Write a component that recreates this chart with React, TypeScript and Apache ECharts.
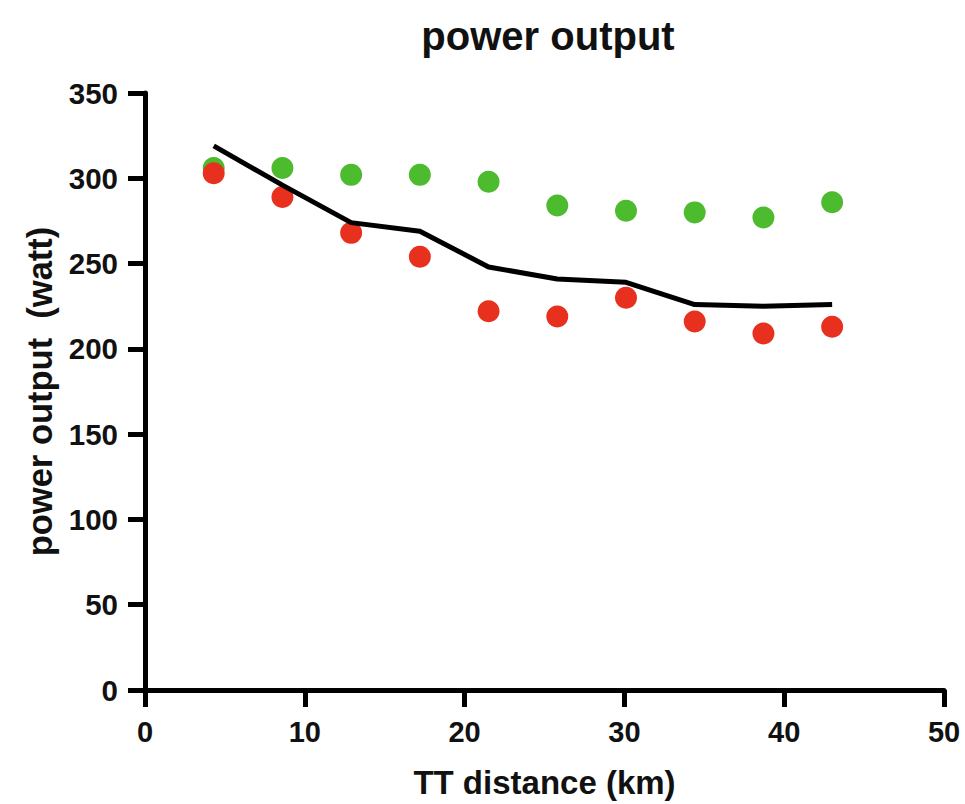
import React, { useEffect, useRef } from "react";
import * as echarts from "echarts";

const distances = [4.3, 8.6, 12.9, 17.2, 21.5, 25.8, 30.1, 34.4, 38.7, 43];
const greenPower = [306, 306, 302, 302, 298, 284, 281, 280, 277, 286];
const redPower = [303, 289, 268, 254, 222, 219, 230, 216, 209, 213];
const linePower = [319, 296, 274, 269, 248, 241, 239, 226, 225, 226];
const xTicks = [0, 10, 20, 30, 40, 50];
const yTicks = [0, 50, 100, 150, 200, 250, 300, 350];

const FONT = "Liberation Sans, Arial, sans-serif";

export default function App() {
  const ref = useRef<HTMLDivElement>(null);
  useEffect(() => {
    if (!ref.current) return;
    const chart = echarts.init(ref.current, undefined, { renderer: "svg" });
    const pair = (ys: number[]) => distances.map((x, i) => [x, ys[i]]);
    chart.setOption({
      animation: false,
      backgroundColor: "#ffffff",
      title: {
        text: "power output",
        left: 543,
        top: 11,
        textAlign: "center",
        textStyle: { fontFamily: FONT, fontWeight: "bold", fontSize: 40, color: "#111" },
      },
      grid: { left: 145, right: 21, top: 93, bottom: 111, containLabel: false },
      xAxis: {
        type: "value",
        min: xTicks[0],
        max: xTicks[xTicks.length - 1],
        interval: 10,
        name: "TT distance (km)",
        nameLocation: "middle",
        nameGap: 76,
        nameTextStyle: { fontFamily: FONT, fontWeight: "bold", fontSize: 33, color: "#111" },
        axisLine: { show: true, lineStyle: { color: "#000", width: 5 } },
        axisTick: { show: true, length: 17, lineStyle: { color: "#000", width: 5 } },
        axisLabel: { fontFamily: FONT, fontWeight: "bold", fontSize: 29, color: "#111", margin: 27 },
        splitLine: { show: false },
      },
      yAxis: {
        type: "value",
        min: yTicks[0],
        max: yTicks[yTicks.length - 1],
        interval: 50,
        name: "power output  (watt)",
        nameLocation: "middle",
        nameGap: 88,
        nameTextStyle: { fontFamily: FONT, fontWeight: "bold", fontSize: 34.5, color: "#111" },
        axisLine: { show: true, lineStyle: { color: "#000", width: 5 } },
        axisTick: { show: true, length: 17, lineStyle: { color: "#000", width: 5 } },
        axisLabel: { fontFamily: FONT, fontWeight: "bold", fontSize: 29.5, color: "#111", margin: 27 },
        splitLine: { show: false },
      },
      series: [
        {
          type: "scatter",
          data: pair(greenPower),
          symbol: "circle",
          symbolSize: 22,
          itemStyle: { color: "#4cbb2e", opacity: 1 },
        },
        {
          type: "scatter",
          data: pair(redPower),
          symbol: "circle",
          symbolSize: 22,
          itemStyle: { color: "#e8301e", opacity: 1 },
        },
        {
          type: "line",
          data: pair(linePower),
          showSymbol: false,
          symbol: "none",
          lineStyle: { color: "#000", width: 5 },
        },
      ],
    });
    return () => chart.dispose();
  }, []);
  return <div ref={ref} style={{ width: 965, height: 804, position: "absolute", left: 0, top: 0 }} />;
}
